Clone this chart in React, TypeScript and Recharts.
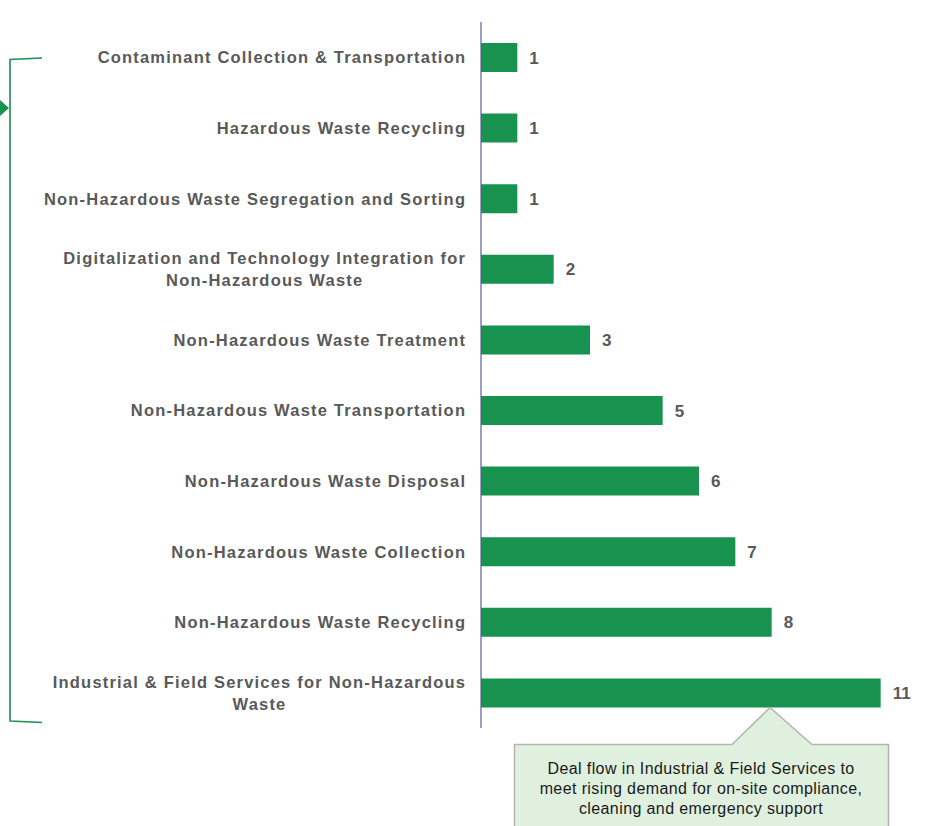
import React from "react";
import { BarChart, Bar, XAxis, YAxis, LabelList } from "recharts";

const categories: string[] = [
  "Contaminant Collection & Transportation",
  "Hazardous Waste Recycling",
  "Non-Hazardous Waste Segregation and Sorting",
  "Digitalization and Technology Integration for\nNon-Hazardous Waste",
  "Non-Hazardous Waste Treatment",
  "Non-Hazardous Waste Transportation",
  "Non-Hazardous Waste Disposal",
  "Non-Hazardous Waste Collection",
  "Non-Hazardous Waste Recycling",
  "Industrial & Field Services for Non-Hazardous\nWaste",
];
const dealCounts: number[] = [1, 1, 1, 2, 3, 5, 6, 7, 8, 11];
const xTicks: number[] = [0, 12];
const calloutText: string[] = [
  "Deal flow in Industrial & Field Services to",
  "meet rising demand for on-site compliance,",
  "cleaning and emergency support",
];

const data = categories.map((c, i) => ({ name: c, value: dealCounts[i] }));

const GREEN = "#17924f";
const GRAY = "#595959";
const FONT = "'Liberation Sans', Arial, sans-serif";

const CategoryTick = (props: any) => {
  const { x, y, payload } = props;
  const lines: string[] = String(payload.value).split("\n");
  const boxW = 470;
  const lh = 22;
  const h = lines.length * lh;
  return (
    <foreignObject x={x - 8 - boxW} y={y - h / 2} width={boxW} height={h}>
      <div
        style={{
          width: boxW,
          height: h,
          display: "flex",
          justifyContent: "flex-end",
          alignItems: "center",
        }}
      >
        <div
          style={{
            textAlign: "center",
            fontFamily: FONT,
            fontWeight: 700,
            fontSize: 16.5,
            lineHeight: `${lh}px`,
            color: GRAY,
            letterSpacing: 1.2,
            whiteSpace: "nowrap",
            marginRight: -1.2,
          }}
        >
          {lines.map((l, i) => (
            <div key={i}>{l}</div>
          ))}
        </div>
      </div>
    </foreignObject>
  );
};

export default function App() {
  return (
    <div style={{ position: "absolute", left: 0, top: 0, width: 932, height: 826, background: "#fff", overflow: "hidden" }}>
      <BarChart
        width={932}
        height={826}
        data={data}
        layout="vertical"
        margin={{ top: 22, right: 15, bottom: 98, left: 0 }}
        barCategoryGap={0}
      >
        <XAxis type="number" domain={[0, 12]} ticks={xTicks} hide />
        <YAxis
          type="category"
          dataKey="name"
          width={481}
          axisLine={{ stroke: "#5b5f97", strokeWidth: 1.2 }}
          tickLine={false}
          tick={<CategoryTick />}
          interval={0}
        />
        <Bar dataKey="value" fill={GREEN} barSize={29} isAnimationActive={false}>
          <LabelList
            dataKey="value"
            position="right"
            offset={12}
            style={{ fontFamily: FONT, fontWeight: 700, fontSize: 17, fill: GRAY }}
          />
        </Bar>
      </BarChart>
      <svg
        width={932}
        height={826}
        style={{ position: "absolute", left: 0, top: 0, pointerEvents: "none" }}
      >
        {/* bracket */}
        <path d="M42,58 L10,59.5 L10,721 L42,722.5" fill="none" stroke={GREEN} strokeWidth={1.6} />
        <polygon points="0,100 9,108 0,116" fill={GREEN} />
        {/* callout */}
        <path
          d="M514.5,744.5 L732,744.5 L770,707.5 L812,744.5 L888.5,744.5 L888.5,830 L514.5,830 Z"
          fill="#dff0df"
          stroke="#b3b3b3"
          strokeWidth={1.5}
        />
        {calloutText.map((t, i) => (
          <text
            key={i}
            x={701}
            y={774 + i * 20}
            textAnchor="middle"
            fontFamily={FONT}
            fontSize={16}
            letterSpacing={0.4}
            fill="#1a1a1a"
          >
            {t}
          </text>
        ))}
      </svg>
    </div>
  );
}
